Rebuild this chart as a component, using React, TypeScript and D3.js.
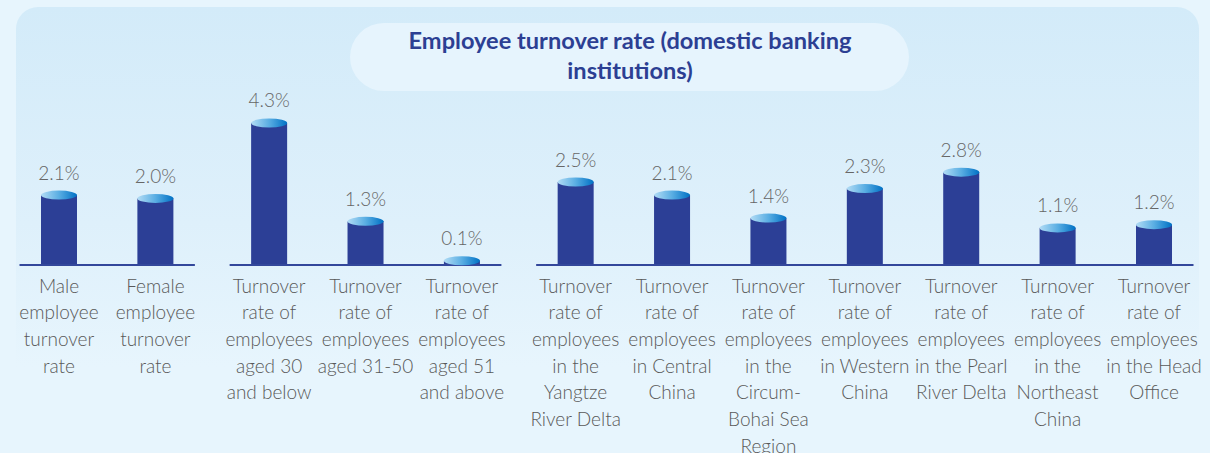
import React from "react";
import * as d3 from "d3";

const categories: string[][] = [
  ["Male", "employee", "turnover", "rate"],
  ["Female", "employee", "turnover", "rate"],
  ["Turnover", "rate of", "employees", "aged 30", "and below"],
  ["Turnover", "rate of", "employees", "aged 31-50"],
  ["Turnover", "rate of", "employees", "aged 51", "and above"],
  ["Turnover", "rate of", "employees", "in the", "Yangtze", "River Delta"],
  ["Turnover", "rate of", "employees", "in Central", "China"],
  ["Turnover", "rate of", "employees", "in the", "Circum-", "Bohai Sea", "Region"],
  ["Turnover", "rate of", "employees", "in Western", "China"],
  ["Turnover", "rate of", "employees", "in the Pearl", "River Delta"],
  ["Turnover", "rate of", "employees", "in the", "Northeast", "China"],
  ["Turnover", "rate of", "employees", "in the Head", "Office"],
];
const groups: number[] = [0, 0, 1, 1, 1, 2, 2, 2, 2, 2, 2, 2];
const values: number[] = [2.1, 2.0, 4.3, 1.3, 0.1, 2.5, 2.1, 1.4, 2.3, 2.8, 1.1, 1.2];
const title: string[] = ["Employee turnover rate (domestic banking", "institutions)"];

const W = 1210;
const H = 453;
const GAP = 0.18;
const BASE = 264;
const BAR_W = 36;
const RY = 4.5;
const FONT = "Lato, 'Source Sans Pro', 'Noto Sans', sans-serif";

export default function App() {
  const slot = (i: number) => i + groups[i] * GAP;
  const x = d3.scaleLinear().domain([0, 11 + 2 * GAP]).range([59, 1154]);
  const y = d3.scaleLinear().domain([0, 5]).range([BASE, BASE - 5 * 32.8]);

  const groupIds = Array.from(new Set(groups));
  const axisSegs = groupIds.map((g) => {
    const idx = groups.map((gg, i) => (gg === g ? i : -1)).filter((i) => i >= 0);
    const xs = idx.map((i) => x(slot(i)));
    return { g, x1: d3.min(xs)! - 39.5, x2: d3.max(xs)! + 39.5 };
  });

  return (
    <svg
      width={W}
      height={H}
      style={{ position: "absolute", left: 0, top: 0, display: "block" }}
    >
      <defs>
        <linearGradient id="panelGrad" x1="0" y1="0" x2="0" y2="1">
          <stop offset="0" stopColor="#d3ebf9" />
          <stop offset="0.45" stopColor="#def0fb" />
          <stop offset="0.75" stopColor="#e7f5fd" />
          <stop offset="1" stopColor="#e7f5fd" />
        </linearGradient>
        <linearGradient id="capGrad" x1="0" y1="0" x2="1" y2="0">
          <stop offset="0" stopColor="#b2dcf5" />
          <stop offset="0.5" stopColor="#5aaee3" />
          <stop offset="1" stopColor="#0071c5" />
        </linearGradient>
      </defs>
      <rect x={0} y={0} width={W} height={H} fill="#e7f5fd" />
      <rect x={16} y={7} width={1183} height={480} rx={22} fill="url(#panelGrad)" />
      <rect x={350} y={23} width={559} height={68} rx={34} fill="#e6f4fd" />
      {title.map((t, i) => (
        <text
          key={i}
          x={630}
          y={49 + i * 29.5}
          textAnchor="middle"
          fontFamily={FONT}
          fontWeight={700}
          fontSize={23.6}
          fill="#2c3f93"
        >
          {t}
        </text>
      ))}
      {axisSegs.map((s) => (
        <line
          key={s.g}
          x1={s.x1}
          x2={s.x2}
          y1={BASE + 1}
          y2={BASE + 1}
          stroke="#33479b"
          strokeWidth={2}
        />
      ))}
      {values.map((v, i) => {
        const cx = x(slot(i));
        const top = y(v);
        return (
          <g key={i}>
            <rect x={cx - BAR_W / 2} y={top} width={BAR_W} height={BASE - top} fill="#2c3f96" />
            <ellipse cx={cx} cy={top} rx={BAR_W / 2} ry={RY} fill="url(#capGrad)" />
            <text
              x={cx}
              y={top - RY - 11}
              textAnchor="middle"
              fontFamily={FONT}
              fontWeight={300}
              fontSize={19}
              fill="#666666"
            >
              {v.toFixed(1) + "%"}
            </text>
            {categories[i].map((line, j) => (
              <text
                key={j}
                x={cx}
                y={292.5 + j * 26.7}
                textAnchor="middle"
                fontFamily={FONT}
                fontWeight={300}
                fontSize={19}
                fill="#595959"
              >
                {line}
              </text>
            ))}
          </g>
        );
      })}
    </svg>
  );
}
